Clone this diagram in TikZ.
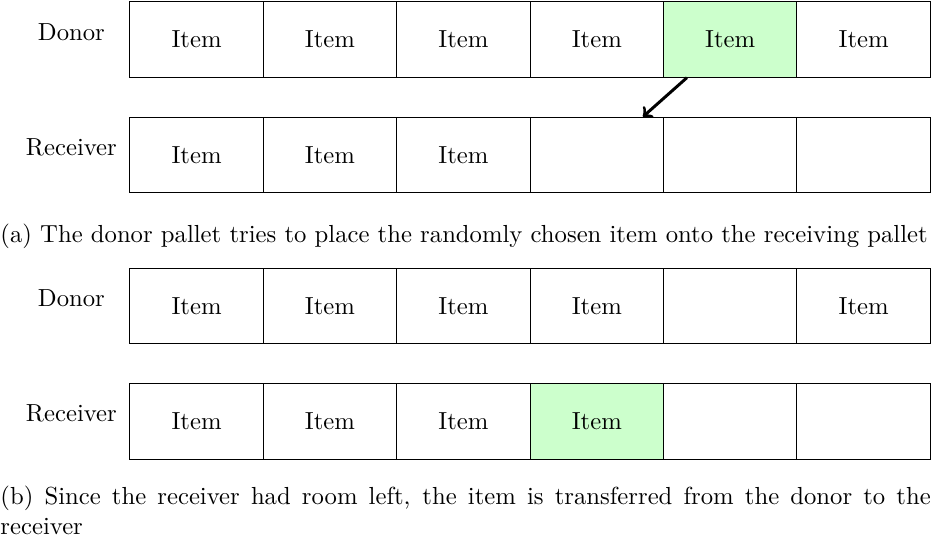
\documentclass[tikz,border=0pt]{standalone}
\usetikzlibrary{positioning}

\tikzset{
  pallet/.style={draw, minimum width=1.9cm, minimum height=1.075cm, inner sep=0pt},
  moved/.style={pallet, fill=green!20},
  rowlabel/.style={anchor=base},
  subcap/.style={anchor=base west, inner sep=0pt}
}

\begin{document}
\begin{tikzpicture}
  \useasboundingbox (0,0) rectangle (13.26,-7.67);
  \begin{scope}[on grid, node distance=1.9cm]

  % (a) before the move
  \node[rowlabel] (l-a-1) at (1.017,-0.575) {Donor};
  \node[pallet] (d-a-1) at (2.8,-0.562) {Item};
  \node[pallet, right=of d-a-1] (d-a-2) {Item};
  \node[pallet, right=of d-a-2] (d-a-3) {Item};
  \node[pallet, right=of d-a-3] (d-a-4) {Item};
  \node[moved,  right=of d-a-4] (d-a-5) {Item};
  \node[pallet, right=of d-a-5] (d-a-6) {Item};

  \node[rowlabel] (l-a-2) at (1.017,-2.215) {Receiver};
  \node[pallet] (r-a-1) at (2.8,-2.207) {Item};
  \node[pallet, right=of r-a-1] (r-a-2) {Item};
  \node[pallet, right=of r-a-2] (r-a-3) {Item};
  \node[pallet, right=of r-a-3] (r-a-4) {};
  \node[pallet, right=of r-a-4] (r-a-5) {};
  \node[pallet, right=of r-a-5] (r-a-6) {};

  \draw[->, very thick] ([xshift=0.34cm]d-a-5.south west) -- ([xshift=-0.3cm]r-a-4.north east);

  \node[subcap] (c-a) at (0,-3.46)
    {(a) The donor pallet tries to place the randomly chosen item onto the receiving pallet};

  % (b) after the move
  \node[rowlabel] (l-b-1) at (1.017,-4.36) {Donor};
  \node[pallet] (d-b-1) at (2.8,-4.356) {Item};
  \node[pallet, right=of d-b-1] (d-b-2) {Item};
  \node[pallet, right=of d-b-2] (d-b-3) {Item};
  \node[pallet, right=of d-b-3] (d-b-4) {Item};
  \node[pallet, right=of d-b-4] (d-b-5) {};
  \node[pallet, right=of d-b-5] (d-b-6) {Item};

  \node[rowlabel] (l-b-2) at (1.017,-6.0) {Receiver};
  \node[pallet] (r-b-1) at (2.8,-6.002) {Item};
  \node[pallet, right=of r-b-1] (r-b-2) {Item};
  \node[pallet, right=of r-b-2] (r-b-3) {Item};
  \node[moved,  right=of r-b-3] (r-b-4) {Item};
  \node[pallet, right=of r-b-4] (r-b-5) {};
  \node[pallet, right=of r-b-5] (r-b-6) {};

  \node[subcap, text width=13.25cm, align=justify] (c-b) at (0,-7.186)
    {(b) Since the receiver had room left, the item is transferred from the donor to the receiver};

  \end{scope}
\end{tikzpicture}
\end{document}
